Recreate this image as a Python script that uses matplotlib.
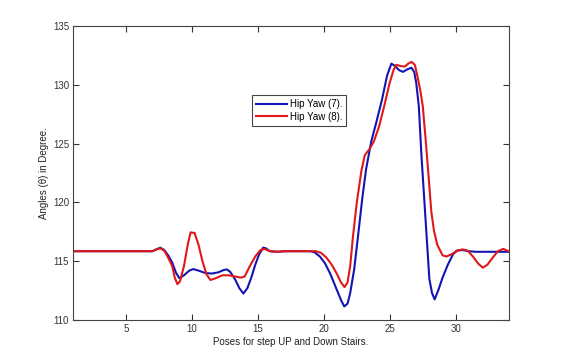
import matplotlib
matplotlib.use('Agg')
import matplotlib.pyplot as plt

# poses (x) and angles
x_blue = [1, 3, 5, 7, 7.3, 7.6, 7.9, 8.2, 8.5, 8.8, 9.05, 9.4, 9.8, 10.1, 10.5, 11, 11.5,
          12, 12.4, 12.65, 12.9, 13.3, 13.6, 13.9, 14.2, 14.5, 14.8, 15.1, 15.4, 15.6,
          15.9, 16.5, 17, 18, 19, 19.3, 19.7, 20.1, 20.5, 20.9, 21.3, 21.55, 21.8, 22.0,
          22.3, 22.6, 22.9, 23.2, 23.6, 24.0, 24.4, 24.8, 25.12, 25.4, 25.7, 26.0, 26.3,
          26.64, 26.85, 27.0, 27.2, 27.4, 27.6, 27.8, 28.0, 28.2, 28.4, 28.7, 29.0, 29.4,
          29.8, 30.1, 30.5, 31, 31.5, 33, 34]
y_blue = [115.85, 115.85, 115.85, 115.85, 116.0, 116.15, 115.95, 115.5, 114.9, 114.0,
          113.55, 113.8, 114.2, 114.33, 114.2, 114.0, 113.95, 114.05, 114.25, 114.3, 114.1,
          113.4, 112.7, 112.25, 112.7, 113.6, 114.7, 115.6, 116.15, 116.1, 115.85, 115.8,
          115.85, 115.85, 115.85, 115.75, 115.4, 114.8, 113.9, 112.8, 111.7, 111.15, 111.4,
          112.3, 114.3, 117.2, 120.2, 122.8, 125.2, 126.9, 128.7, 130.8, 131.8, 131.6,
          131.25, 131.1, 131.3, 131.45, 131.1, 130.2, 128.2, 124.0, 120.5, 117.0, 113.5,
          112.3, 111.75, 112.6, 113.6, 114.7, 115.6, 115.9, 115.95, 115.85, 115.8, 115.8,
          115.8]

x_red = [1, 3, 5, 7, 7.3, 7.6, 7.9, 8.2, 8.5, 8.7, 8.9, 9.1, 9.4, 9.7, 9.9, 10.2, 10.5,
         10.8, 11.1, 11.4, 11.8, 12.3, 12.8, 13.3, 13.7, 14.0, 14.4, 14.8, 15.2, 15.5,
         15.9, 16.5, 17, 18, 19, 19.4, 19.8, 20.2, 20.6, 21.0, 21.3, 21.57, 21.8, 22.0,
         22.2, 22.5, 22.85, 23.1, 23.5, 23.8, 24.2, 24.6, 25.0, 25.3, 25.5, 25.8, 26.13,
         26.4, 26.64, 26.9, 27.1, 27.3, 27.5, 27.7, 27.9, 28.15, 28.35, 28.6, 29.0, 29.3,
         29.7, 30.1, 30.5, 30.9, 31.3, 31.7, 32.05, 32.4, 32.8, 33.2, 33.6, 34]
y_red = [115.85, 115.85, 115.85, 115.85, 116.0, 116.1, 115.9, 115.3, 114.6, 113.6, 113.05,
         113.3, 114.6, 116.5, 117.45, 117.4, 116.4, 115.0, 113.9, 113.4, 113.55, 113.8,
         113.8, 113.7, 113.6, 113.7, 114.6, 115.4, 115.95, 116.05, 115.85, 115.8, 115.85,
         115.85, 115.85, 115.85, 115.7, 115.3, 114.7, 113.9, 113.2, 112.8, 113.2, 114.6,
         117.0, 120.0, 122.7, 124.0, 124.6, 125.2, 126.5, 128.3, 130.2, 131.3, 131.7,
         131.6, 131.55, 131.8, 131.95, 131.7, 130.7, 129.6, 128.2, 125.6, 122.8, 119.2,
         117.6, 116.4, 115.5, 115.4, 115.6, 115.9, 116.0, 115.9, 115.4, 114.8, 114.45,
         114.7, 115.3, 115.85, 116.05, 115.85]

plt.rcParams['font.family'] = ['Liberation Sans', 'DejaVu Sans']

fig = plt.figure(figsize=(5.62, 3.59), dpi=100)
ax = fig.add_axes([73.2 / 562, (359 - 320) / 359, (508.5 - 73.2) / 562, (320 - 26) / 359])

ax.plot(x_blue, y_blue, color='#1414b4', lw=1.5, label='Hip Yaw (7).')
ax.plot(x_red, y_red, color='#e01818', lw=1.5, label='Hip Yaw (8).')

ax.set_xlim(1, 34)
ax.set_ylim(110, 135)
ax.set_xticks([5, 10, 15, 20, 25, 30])
ax.set_yticks([110, 115, 120, 125, 130, 135])
ax.tick_params(direction='in', top=True, right=True, labelsize=7, length=4,
               colors='#333333', pad=3)
for s in ax.spines.values():
    s.set_color('#444444')
    s.set_linewidth(0.8)

ax.set_xlabel('Poses for step UP and Down Stairs.', fontsize=7, labelpad=2, color='#222222')
ax.set_ylabel('Angles (\u03b8) in Degree.', fontsize=7, labelpad=3, color='#222222')

leg = ax.legend(loc='upper left', bbox_to_anchor=(0.411, 0.765),
                fontsize=7, fancybox=False, framealpha=1, edgecolor='#444444',
                handlelength=3.2, borderpad=0.4, labelspacing=0.3, handletextpad=0.3,
                borderaxespad=0)
leg.get_frame().set_linewidth(0.8)

fig.savefig('out.png', dpi=100)
